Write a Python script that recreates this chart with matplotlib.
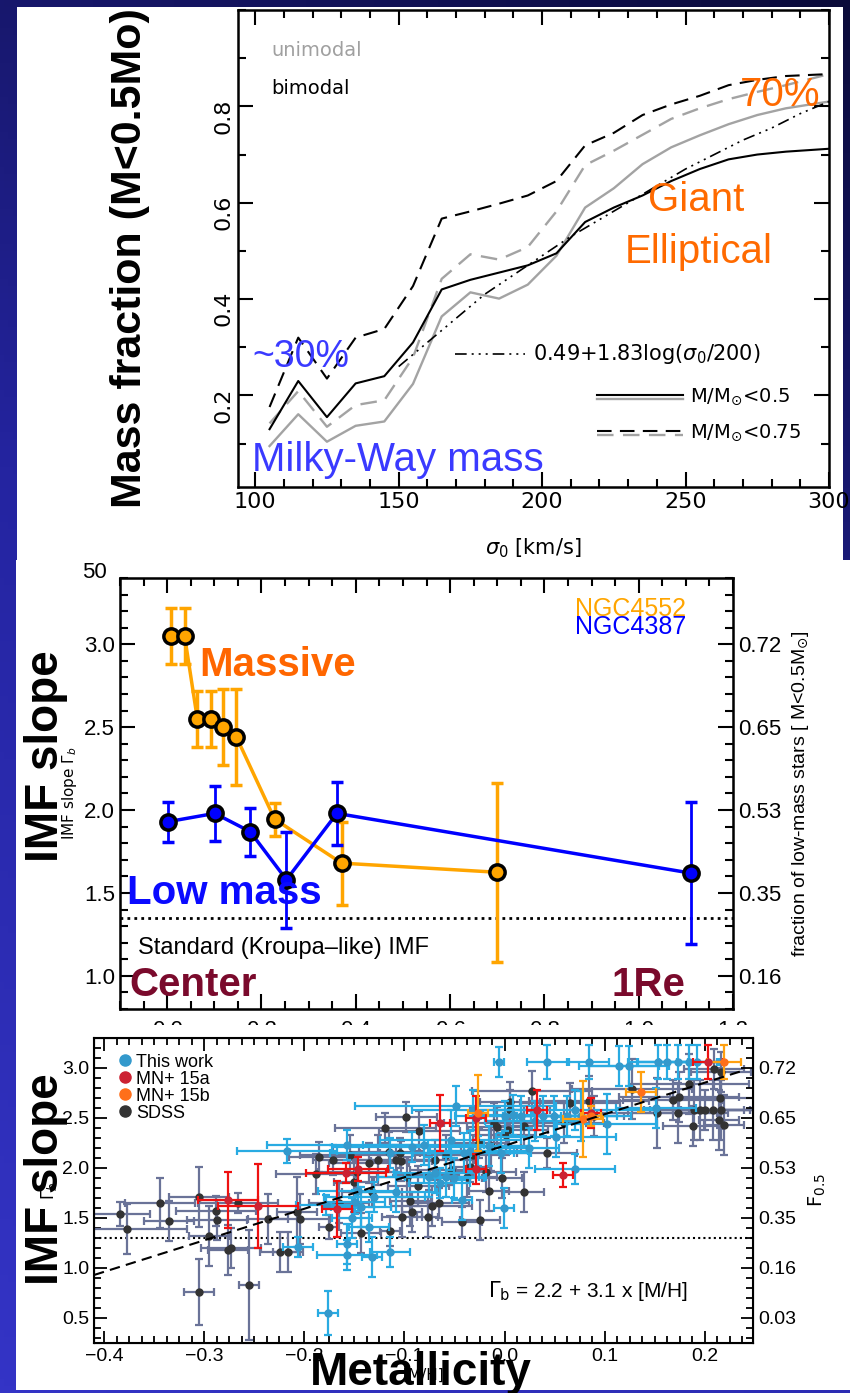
import numpy as np
import matplotlib
matplotlib.use("Agg")
import matplotlib.pyplot as plt
from matplotlib.patches import Rectangle
from matplotlib.lines import Line2D
from matplotlib.colors import LinearSegmentedColormap
from matplotlib.ticker import MultipleLocator, AutoMinorLocator

# ---------------- data: panel 1 (mass fraction vs sigma) ----------------
sigma = [105, 115, 125, 135, 145, 155, 165, 175, 185, 195, 205, 215, 225, 235, 245, 255, 265, 275, 285, 300]
bimodal_05 = [0.13, 0.23, 0.155, 0.225, 0.24, 0.31, 0.42, 0.44, 0.455, 0.47, 0.495, 0.56, 0.59, 0.615, 0.645, 0.67, 0.69, 0.70, 0.706, 0.712]
unimodal_05 = [0.095, 0.161, 0.104, 0.137, 0.146, 0.224, 0.364, 0.414, 0.401, 0.43, 0.49, 0.59, 0.63, 0.68, 0.715, 0.74, 0.763, 0.782, 0.796, 0.81]
bimodal_075 = [0.176, 0.32, 0.235, 0.32, 0.338, 0.427, 0.567, 0.582, 0.598, 0.615, 0.645, 0.719, 0.745, 0.782, 0.804, 0.822, 0.844, 0.855, 0.863, 0.867]
unimodal_075 = [0.142, 0.209, 0.135, 0.18, 0.19, 0.279, 0.442, 0.493, 0.482, 0.508, 0.582, 0.678, 0.708, 0.741, 0.774, 0.796, 0.815, 0.83, 0.844, 0.867]
fit_sigma = [150, 160, 170, 180, 190, 200, 210, 220, 230, 240, 250, 260, 270, 280, 290, 300]
fit_frac = [0.26, 0.31, 0.36, 0.41, 0.45, 0.49, 0.53, 0.565, 0.60, 0.635, 0.67, 0.70, 0.73, 0.755, 0.785, 0.81]

# ---------------- data: panel 2 (IMF slope vs radius) ----------------
ngc4552_r = [0.009, 0.037, 0.064, 0.092, 0.118, 0.147, 0.228, 0.37, 0.699]
ngc4552_g = [3.05, 3.05, 2.55, 2.55, 2.50, 2.44, 1.945, 1.68, 1.625]
ngc4552_e = [0.17, 0.17, 0.17, 0.17, 0.23, 0.29, 0.10, 0.25, 0.54]
ngc4387_r = [0.002, 0.101, 0.176, 0.253, 0.36, 1.11]
ngc4387_g = [1.93, 1.98, 1.87, 1.58, 1.98, 1.62]
ngc4387_e = [0.12, 0.165, 0.145, 0.29, 0.19, 0.43]
kroupa_slope = 1.35
p2_right_ticks = [1.0, 1.5, 2.0, 2.5, 3.0]
p2_right_labels = ["0.16", "0.35", "0.53", "0.65", "0.72"]

# ---------------- data: panel 3 (IMF slope vs metallicity) ----------------
sdss_mh = [-0.384, -0.377, -0.344, -0.335, -0.305, -0.295, -0.288, -0.287, -0.276, -0.273, -0.266, -0.305, -0.255,
           -0.236, -0.224, -0.216, -0.207, -0.204, -0.188, -0.185, -0.175, -0.171, -0.165, -0.154, -0.150, -0.147,
           -0.143, -0.135, -0.132, -0.126, -0.119, -0.115, -0.114, -0.108, -0.104, -0.103, -0.098, -0.097, -0.094,
           -0.092, -0.102, -0.085, -0.086, -0.077, -0.076, -0.073, -0.070, -0.066, -0.059, -0.054, -0.043, -0.038,
           -0.035, -0.032, -0.026, -0.025, -0.019, -0.016, -0.014, -0.011, -0.008, -0.003, 0.001, 0.003, 0.005,
           0.005, 0.019, 0.019, 0.027, 0.042, 0.059, 0.065, 0.084, 0.089, 0.127, 0.152, 0.168, 0.174, 0.173, 0.184,
           0.188, 0.189, 0.195, 0.200, 0.208, 0.216, 0.215, 0.209, 0.216, 0.214, 0.219]
sdss_g = [1.54, 1.39, 1.65, 1.47, 1.71, 1.32, 1.57, 1.48, 1.18, 1.20, 1.65, 0.76, 0.83,
          1.49, 1.16, 1.16, 1.56, 1.49, 1.94, 2.11, 1.41, 2.08, 1.65, 2.13, 1.86, 1.96,
          1.35, 2.05, 1.76, 2.08, 2.40, 2.16, 1.37, 2.08, 2.15, 2.07, 2.51, 1.91, 1.67,
          1.56, 1.51, 2.37, 1.82, 1.51, 1.93, 1.62, 2.08, 1.65, 2.13, 1.98, 1.46, 1.91,
          2.01, 2.13, 2.25, 1.48, 1.96, 1.77, 2.22, 2.45, 2.41, 1.90, 2.33, 2.38, 2.66,
          2.58, 2.42, 1.76, 2.77, 2.15, 2.45, 2.65, 2.67, 2.52, 2.79, 2.55, 2.68, 2.71, 2.55, 2.84,
          2.42, 2.58, 2.58, 2.58, 2.58, 2.58, 2.70, 2.99, 2.96, 2.48, 2.43]
sdss_xe = [.03, .06, .035, .025, .03, .02, .04, .03, .02, .03, .04, .015, .01,
           .02, .02, .015, .02, .03, .04, .03, .01, .02, .03, .05, .02, .04,
           .02, .04, .03, .03, .05, .03, .01, .04, .02, .03, .03, .03, .02,
           .01, .02, .04, .03, .01, .03, .04, .04, .03, .03, .04, .02, .03,
           .02, .03, .03, .02, .03, .02, .03, .05, .03, .02, .03, .04, .03,
           .04, .03, .02, .06, .03, .04, .05, .06, .03, .06, .06, .05, .06, .05, .06,
           .03, .05, .05, .05, .04, .04, .05, .03, .03, .02, .02]
sdss_ye = [.12, .25, .25, .2, .3, .3, .15, .2, .25, .2, .1, .33, .55,
           .25, .2, .2, .35, .25, .2, .15, .12, .15, .2, .2, .3, .15,
           .2, .2, .15, .25, .15, .2, .15, .15, .15, .2, .15, .2, .25,
           .2, .2, .2, .2, .2, .15, .2, .2, .15, .2, .15, .15, .2,
           .15, .2, .15, .2, .2, .2, .25, .2, .2, .2, .2, .15, .2,
           .2, .2, .2, .2, .15, .2, .2, .25, .2, .3, .35, .2, .25, .3, .3,
           .2, .3, .3, .2, .3, .3, .3, .2, .2, .3, .3]

tw_mh = [-0.217, -0.206, -0.176, -0.178, -0.157, -0.157, -0.157, -0.152, -0.149, -0.146, -0.143, -0.135, -0.132,
         -0.130, -0.114, -0.114, -0.108, -0.092, -0.081, -0.076, -0.070, -0.065, -0.059, -0.054, -0.051, -0.043,
         -0.041, -0.035, -0.027, -0.016, -0.006, -0.004, -0.001, 0.000, 0.008, 0.016, 0.024, 0.030, 0.038, 0.042,
         0.049, 0.051, 0.062, 0.070, 0.076, 0.084, 0.102, 0.114, 0.124, 0.153, 0.162, 0.173, 0.184, 0.192, 0.151,
         0.070, -0.049, -0.032]
tw_g = [2.17, 1.21, 0.55, 1.63, 2.23, 1.13, 1.24, 1.50, 1.66, 1.77, 1.61, 1.41, 1.11,
        1.71, 1.16, 2.15, 1.76, 2.21, 2.23, 1.91, 1.95, 1.85, 1.91, 2.28, 1.90, 1.68,
        2.15, 2.17, 2.17, 2.22, 3.06, 2.15, 1.60, 2.52, 2.53, 2.52, 2.20, 2.47, 2.52, 3.06,
        2.52, 2.31, 2.52, 1.99, 2.52, 3.06, 2.44, 3.02, 3.02, 3.06, 3.06, 3.06, 3.06, 3.06, 2.60,
        2.58, 2.62, 2.58]
tw_xe = [.05, .015, .01, .03, .08, .03, .01, .02, .03, .04, .03, .02, .01,
         .05, .02, .06, .04, .08, .06, .05, .04, .03, .04, .07, .03, .01,
         .05, .04, .05, .04, .005, .03, .01, .05, .03, .04, .03, .05, .04, .02,
         .04, .06, .05, .04, .05, .02, .05, .04, .04, .03, .03, .04, .03, .02, .04,
         .08, .10, .06]
tw_ye = [.12, .1, .22, .1, .15, .15, .2, .2, .12, .2, .2, .15, .2,
         .15, .15, .15, .2, .15, .2, .2, .2, .15, .2, .3, .2, .2,
         .2, .2, .15, .2, .15, .2, .2, .15, .2, .2, .2, .2, .2, .17,
         .2, .2, .2, .15, .25, .17, .3, .2, .2, .17, .17, .17, .17, .17, .2,
         .2, .2, .2]

mn15a_mh = [-0.276, -0.246, -0.167, -0.158, -0.146, -0.065, -0.029, -0.029, 0.032, 0.058, 0.086, 0.203]
mn15a_g = [1.68, 1.62, 1.59, 1.95, 1.99, 2.45, 2.50, 1.99, 2.58, 1.93, 2.55, 3.06]
mn15a_xe = [.03, .04, .015, .04, .03, .01, .01, .01, .01, .01, .01, .015]
mn15a_ye = [.28, .42, .28, .1, .12, .28, .22, .15, .2, .12, .15, .17]

mn15b_mh = [-0.027, 0.078, 0.086, 0.136, 0.219]
mn15b_g = [2.55, 2.49, 2.52, 2.76, 3.06]
mn15b_xe = [.01, .02, .01, .015, .017]
mn15b_ye = [.38, .38, .1, .2, .17]

fit_mh = [-0.41, 0.24]
fit_gamma = [0.93, 2.98]
kroupa_p3 = 1.30
p3_right_ticks = [0.5, 1.0, 1.5, 2.0, 2.5, 3.0]
p3_right_labels = ["0.03", "0.16", "0.35", "0.53", "0.65", "0.72"]

# ---------------- layout helpers ----------------
W, H = 850, 1393


def box(l, t, r, b):
    return [l / W, 1 - b / H, (r - l) / W, (b - t) / H]


def white_rect(l, t, r, b, z):
    fig.add_artist(Rectangle((l / W, 1 - b / H), (r - l) / W, (b - t) / H,
                             transform=fig.transFigure, facecolor="white",
                             edgecolor="none", zorder=z))


fig = plt.figure(figsize=(8.5, 13.93), dpi=100)

# slide background
bg = fig.add_axes([0, 0, 1, 1], zorder=-1)
yy, xx = np.mgrid[0:1:200j, 0:1:200j]
cmap = LinearSegmentedColormap.from_list("bg", ["#0b0b3a", "#2424a0", "#3434c6"])
bg.imshow(0.75 * yy + 0.25 * (1 - xx), cmap=cmap, aspect="auto", extent=[0, 1, 0, 1], origin="upper")
bg.axis("off")

SANS = "Liberation Sans"

# ================= panel 1 =================
white_rect(17, 7, 843, 560, 1)
ax1 = fig.add_axes(box(238, 10, 829, 487), zorder=2)
dash = (0, (7, 4))
ax1.plot(sigma, unimodal_05, color="#a3a3a3", lw=1.7)
ax1.plot(sigma, unimodal_075, color="#a3a3a3", lw=1.7, ls=dash)
ax1.plot(sigma, bimodal_05, color="k", lw=1.5)
ax1.plot(sigma, bimodal_075, color="k", lw=1.5, ls=dash)
ax1.plot(fit_sigma, fit_frac, color="k", lw=1.2, ls=(0, (7, 3, 1.2, 3, 1.2, 3, 1.2, 3)))
ax1.set_xlim(94, 300)
ax1.set_ylim(0.01, 1.0)
ax1.set_xticks([100, 150, 200, 250, 300])
ax1.set_yticks([0.2, 0.4, 0.6, 0.8])
ax1.xaxis.set_minor_locator(MultipleLocator(10))
ax1.yaxis.set_minor_locator(MultipleLocator(0.1))
ax1.tick_params(which="both", direction="in", top=True, right=True, width=1.5, labelsize=16)
ax1.tick_params(which="major", length=11)
ax1.tick_params(which="minor", length=6)
ax1.tick_params(axis="y", labelrotation=90)
for s in ax1.spines.values():
    s.set_linewidth(1.8)
ax1.set_xlabel(r"$\sigma_0$ [km/s]", fontsize=15, labelpad=18)

# legend keys
ax1.text(0.056, 0.916, "unimodal", color="#a0a0a0", fontsize=14, transform=ax1.transAxes, va="center")
ax1.text(0.056, 0.836, "bimodal", color="k", fontsize=14, transform=ax1.transAxes, va="center")
ax1.plot([0.367, 0.486], [0.279, 0.279], color="k", lw=1.2, ls=(0, (7, 3, 1.2, 3, 1.2, 3, 1.2, 3)),
         transform=ax1.transAxes)
ax1.text(0.499, 0.279, r"0.49+1.83log($\sigma_0$/200)", fontsize=15, transform=ax1.transAxes, va="center")
ax1.plot([0.607, 0.753], [0.185, 0.185], color="#a3a3a3", lw=1.7, transform=ax1.transAxes)
ax1.plot([0.607, 0.753], [0.193, 0.193], color="k", lw=1.5, transform=ax1.transAxes)
ax1.text(0.765, 0.19, r"M/M$_{\odot}$<0.5", fontsize=14, transform=ax1.transAxes, va="center")
ax1.plot([0.607, 0.753], [0.108, 0.108], color="#a3a3a3", lw=1.7, ls=dash, transform=ax1.transAxes)
ax1.plot([0.607, 0.753], [0.117, 0.117], color="k", lw=1.5, ls=dash, transform=ax1.transAxes)
ax1.text(0.765, 0.113, r"M/M$_{\odot}$<0.75", fontsize=14, transform=ax1.transAxes, va="center")

# annotations
ax1.text(0.024, 0.273, "~30%", color="#3a3aff", fontsize=27, family=SANS, transform=ax1.transAxes, va="center")
ax1.text(0.024, 0.057, "Milky-Way mass", color="#3a3aff", fontsize=29, family=SANS,
         transform=ax1.transAxes, va="center")
ax1.text(0.849, 0.822, "70%", color="#ff6a00", fontsize=29, family=SANS, transform=ax1.transAxes, va="center")
ax1.text(0.775, 0.602, "Giant", color="#ff6a00", fontsize=29, family=SANS, transform=ax1.transAxes,
         ha="center", va="center")
ax1.text(0.78, 0.493, "Elliptical", color="#ff6a00", fontsize=29, family=SANS, transform=ax1.transAxes,
         ha="center", va="center")

fig.text(130 / W, 1 - 258 / H, "Mass fraction (M<0.5Mo)", rotation=90, fontsize=31, fontweight="bold",
         family=SANS, ha="center", va="center", zorder=10)

# ================= panel 2 =================
white_rect(16, 560, 850, 1025, 3)
ax2 = fig.add_axes(box(120, 578, 733, 1009), zorder=4)
ax2.axhline(kroupa_slope, color="k", lw=2, ls=(0, (1, 1.5)))
ax2.errorbar(ngc4552_r, ngc4552_g, yerr=ngc4552_e, color="#ffa500", lw=2.5, elinewidth=2.5, capsize=4,
             capthick=2, marker="o", ms=11, mfc="#ffa500", mec="k", mew=2.5, zorder=3)
ax2.errorbar(ngc4387_r, ngc4387_g, yerr=ngc4387_e, color="#0000ff", lw=2.5, elinewidth=2, capsize=4,
             capthick=2, marker="o", ms=11, mfc="#0000ff", mec="k", mew=2.5, zorder=4)
ax2.set_xlim(-0.1, 1.2)
ax2.set_ylim(0.8, 3.4)
ax2.set_xticks([0.0, 0.2, 0.4, 0.6, 0.8, 1.0, 1.2])
ax2.set_yticks([1.0, 1.5, 2.0, 2.5, 3.0])
ax2.xaxis.set_minor_locator(MultipleLocator(0.05))
ax2.yaxis.set_minor_locator(MultipleLocator(0.1))
ax2.tick_params(which="both", direction="in", top=True, right=False, width=1.5, labelsize=16)
ax2.tick_params(which="major", length=11)
ax2.tick_params(which="minor", length=6)
ax2.tick_params(axis="x", pad=8)
for lab in ax2.get_xticklabels() + ax2.get_yticklabels():
    lab.set_family(SANS)
for s in ax2.spines.values():
    s.set_linewidth(1.8)
ax2.set_ylabel(r"IMF slope $\Gamma_b$", fontsize=11, labelpad=4)
ax2r = ax2.twinx()
ax2r.set_ylim(0.8, 3.4)
ax2r.set_yticks(p2_right_ticks)
ax2r.set_yticklabels(p2_right_labels)
ax2r.yaxis.set_minor_locator(MultipleLocator(0.1))
ax2r.tick_params(which="both", direction="in", width=1.5, labelsize=16)
ax2r.tick_params(which="major", length=11)
ax2r.tick_params(which="minor", length=6)
for lab in ax2r.get_yticklabels():
    lab.set_family(SANS)
ax2r.set_ylabel(r"fraction of low-mass stars [ M<0.5M$_{\odot}$]", fontsize=14, family=SANS, labelpad=6)

ax2.text(-0.041, 1.012, "50", fontsize=16, family=SANS, transform=ax2.transAxes, ha="center", va="center")
ax2.text(0.924, 0.928, "NGC4552", color="#ffa500", fontsize=18, family=SANS, transform=ax2.transAxes,
         ha="right", va="center")
ax2.text(0.924, 0.886, "NGC4387", color="#0000ff", fontsize=18, family=SANS, transform=ax2.transAxes,
         ha="right", va="center")
ax2.text(0.13, 0.798, "Massive", color="#ff6600", fontsize=29, fontweight="bold", family=SANS,
         transform=ax2.transAxes, va="center")
ax2.text(0.011, 0.269, "Low mass", color="#0a0aff", fontsize=29, fontweight="bold", family=SANS,
         transform=ax2.transAxes, va="center", zorder=6)
ax2.text(0.029, 0.142, "Standard (Kroupa\u2013like) IMF", fontsize=17, family=SANS,
         transform=ax2.transAxes, va="center")
ax2.text(0.016, 0.056, "Center", color="#7a0a2c", fontsize=29, fontweight="bold", family=SANS,
         transform=ax2.transAxes, va="center")
ax2.text(0.923, 0.056, "1Re", color="#7a0a2c", fontsize=29, fontweight="bold", family=SANS,
         transform=ax2.transAxes, ha="right", va="center")

fig.text(46 / W, 1 - 756 / H, "IMF slope", rotation=90, fontsize=33, fontweight="bold", family=SANS,
         ha="center", va="center", zorder=10)

# ================= panel 3 =================
white_rect(16, 1025, 850, 1390, 5)
ax3 = fig.add_axes(box(94, 1038, 753, 1343), zorder=6)
ax3.axhline(kroupa_p3, color="k", lw=1.5, ls=(0, (1, 1.5)))
ax3.plot(fit_mh, fit_gamma, color="k", lw=1.5, ls=(0, (5, 3)), zorder=5)
eb = dict(fmt="o", ms=5, elinewidth=1.6, capsize=3, capthick=1.6)
ax3.errorbar(sdss_mh, sdss_g, xerr=sdss_xe, yerr=sdss_ye, color="#333333", ecolor="#6a7398", zorder=2, **eb)
ax3.errorbar(tw_mh, tw_g, xerr=tw_xe, yerr=tw_ye, color="#3399cc", ecolor="#29abe2", zorder=3, **eb)
ax3.errorbar(mn15a_mh, mn15a_g, xerr=mn15a_xe, yerr=mn15a_ye, color="#cc2233", ecolor="#ee1111", zorder=4, **eb)
ax3.errorbar(mn15b_mh, mn15b_g, xerr=mn15b_xe, yerr=mn15b_ye, color="#ff6f1a", ecolor="#ffa010", zorder=4, **eb)
ax3.set_xlim(-0.41, 0.248)
ax3.set_ylim(0.25, 3.3)
ax3.set_xticks([-0.4, -0.3, -0.2, -0.1, 0.0, 0.1, 0.2])
ax3.set_yticks([0.5, 1.0, 1.5, 2.0, 2.5, 3.0])
ax3.xaxis.set_minor_locator(AutoMinorLocator(8))
ax3.yaxis.set_minor_locator(MultipleLocator(0.1))
ax3.tick_params(which="both", direction="in", top=True, right=False, width=1.3, labelsize=14)
ax3.tick_params(which="major", length=9)
ax3.tick_params(which="minor", length=5)
for lab in ax3.get_xticklabels() + ax3.get_yticklabels():
    lab.set_family(SANS)
for s in ax3.spines.values():
    s.set_linewidth(1.5)
ax3.set_xlabel("[M/H]", fontsize=11, labelpad=2)
ax3.set_ylabel(r"$\Gamma_b$", fontsize=12, labelpad=2)
ax3r = ax3.twinx()
ax3r.set_ylim(0.25, 3.3)
ax3r.set_yticks(p3_right_ticks)
ax3r.set_yticklabels(p3_right_labels)
ax3r.yaxis.set_minor_locator(MultipleLocator(0.1))
ax3r.tick_params(which="both", direction="in", width=1.3, labelsize=14)
ax3r.tick_params(which="major", length=9)
ax3r.tick_params(which="minor", length=5)
for lab in ax3r.get_yticklabels():
    lab.set_family(SANS)
ax3r.set_ylabel(r"F$_{0.5}$", fontsize=14, labelpad=8)

handles = [Line2D([], [], ls="none", marker="o", ms=8, color=c)
           for c in ["#3399cc", "#cc2233", "#ff6f1a", "#333333"]]
leg = ax3.legend(handles, ["This work", "MN+ 15a", "MN+ 15b", "SDSS"], loc="upper left",
                 bbox_to_anchor=(0.03, 0.955), frameon=False, fontsize=13, handletextpad=0.15,
                 labelspacing=0.0, borderaxespad=0.0, handlelength=1.0, borderpad=0.1)
for t in leg.get_texts():
    t.set_family(SANS)
ax3.text(0.598, 0.169, r"$\Gamma_{\rm b}$ = 2.2 + 3.1 x [M/H]", fontsize=15, family=SANS,
         transform=ax3.transAxes, va="center")

fig.text(46 / W, 1 - 1179 / H, "IMF slope", rotation=90, fontsize=33, fontweight="bold", family=SANS,
         ha="center", va="center", zorder=10)
fig.text(421 / W, 1 - 1373 / H, "Metallicity", fontsize=33, fontweight="bold", family=SANS,
         ha="center", va="center", zorder=10)

fig.savefig("out.png", dpi=100)
